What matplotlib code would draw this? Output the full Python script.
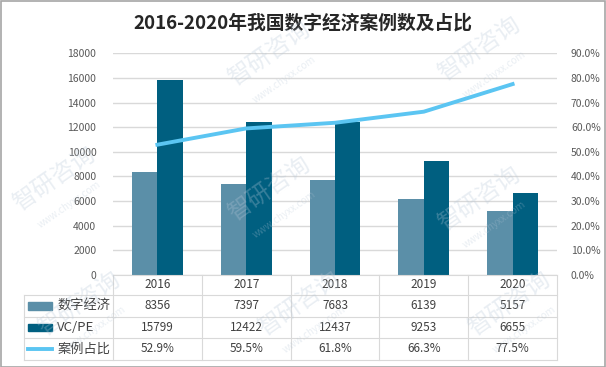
import matplotlib.pyplot as plt
import matplotlib.transforms as mtransforms
from matplotlib.patches import Rectangle
from matplotlib.lines import Line2D

plt.rcParams['font.family'] = ['Noto Sans CJK SC', 'DejaVu Sans']

years = ['2016', '2017', '2018', '2019', '2020']
digital = [8356, 7397, 7683, 6139, 5157]
vcpe = [15799, 12422, 12437, 9253, 6655]
ratio = [52.9, 59.5, 61.8, 66.3, 77.5]
ratio_labels = ['52.9%', '59.5%', '61.8%', '66.3%', '77.5%']
series_names = ['数字经济', 'VC/PE', '案例占比']

c_light = '#5B8FA8'
c_dark = '#005F80'
c_line = '#5BC5F2'
c_grid = '#D9D9D9'
c_text = '#595959'

W, H = 606, 367
fig = plt.figure(figsize=(W / 100, H / 100), dpi=100)
ax = fig.add_axes([113 / W, 1 - 275 / H, 444 / W, (275 - 53.3) / H])
ax2 = ax.twinx()

x = list(range(len(years)))
bw = 0.287
ax.bar([i - bw / 2 for i in x], digital, bw, color=c_light, zorder=2)
ax.bar([i + bw / 2 for i in x], vcpe, bw, color=c_dark, zorder=2)
ax2.plot(x, ratio, color=c_line, lw=2.8, zorder=3)

ax.set_xlim(-0.5, 4.5)
ax.set_ylim(0, 18000)
ax.set_yticks(range(0, 18001, 2000))
ax2.set_ylim(0, 90)
ax2.set_yticks(range(0, 91, 10))
ax2.set_yticklabels(['%.1f%%' % v for v in range(0, 91, 10)])
ax.set_xticks([])
ax.grid(axis='y', color=c_grid, lw=1, zorder=0)
ax.set_axisbelow(True)
for a in (ax, ax2):
    for s in a.spines.values():
        s.set_visible(False)
    a.tick_params(length=0, labelsize=7.5, labelcolor=c_text)
ax.tick_params(axis='y', pad=12)
ax2.tick_params(axis='y', pad=10)

# data table below the plot
tr = mtransforms.blended_transform_factory(ax.transData, fig.transFigure)
rows_px = [275, 295, 316.7, 338, 360]
fy = [1 - r / H for r in rows_px]
tbl_lw = 0.8
ax.add_line(Line2D([-0.5, 4.5], [fy[0], fy[0]], transform=tr, color=c_grid, lw=tbl_lw, clip_on=False))
for yy in fy[1:]:
    ax.add_line(Line2D([-1.5, 4.5], [yy, yy], transform=tr, color=c_grid, lw=tbl_lw, clip_on=False))
for xv in [i - 0.5 for i in range(6)]:
    ax.add_line(Line2D([xv, xv], [fy[0], fy[-1]], transform=tr, color=c_grid, lw=tbl_lw, clip_on=False))
ax.add_line(Line2D([-1.5, -1.5], [fy[1], fy[-1]], transform=tr, color=c_grid, lw=tbl_lw, clip_on=False))

def mid(k):
    return (fy[k] + fy[k + 1]) / 2

for i, yr in enumerate(years):
    ax.text(i, mid(0), yr, transform=tr, ha='center', va='center', fontsize=8.5, color='#404040')
    ax.text(i, mid(1), str(digital[i]), transform=tr, ha='center', va='center', fontsize=8.5, color='#404040')
    ax.text(i, mid(2), str(vcpe[i]), transform=tr, ha='center', va='center', fontsize=8.5, color='#404040')
    ax.text(i, mid(3), ratio_labels[i], transform=tr, ha='center', va='center', fontsize=8.5, color='#404040')

# legend keys inside row labels
kx0 = -1.5 + 4 / 88.8
kw = 24 / 88.8
kh = 7.5 / H
for k, col in [(1, c_light), (2, c_dark)]:
    ax.add_patch(Rectangle((kx0, mid(k) - kh / 2), kw, kh, transform=tr, color=col, clip_on=False))
ax.add_line(Line2D([kx0, kx0 + kw], [mid(3), mid(3)], transform=tr, color=c_line, lw=2.8, clip_on=False))
for k, name in enumerate(series_names):
    ax.text(-1.5 + 33 / 88.8, mid(k + 1), name, transform=tr, ha='left', va='center', fontsize=9.5, color='#404040')

fig.text(303 / W, 1 - 23 / H, '2016-2020年我国数字经济案例数及占比', ha='center', va='center',
         fontsize=13.5, fontweight='bold', color='#262626')

# faint watermark
wm = [(270, 55), (480, 50), (55, 180), (270, 190), (480, 200), (80, 305), (300, 305), (510, 305)]
for px, py in wm:
    fig.text(px / W, 1 - py / H, '智研咨询', rotation=35, ha='center', va='center', fontsize=17,
             color='#B8C8D8', alpha=0.3, zorder=10)
    fig.text((px + 14) / W, 1 - (py + 25) / H, 'www.chyxx.com', rotation=35, ha='center', va='center',
             fontsize=7, color='#B8C8D8', alpha=0.3, zorder=10)

fig.patches.append(Rectangle((0.5 / W, 0.5 / H), 1 - 1.5 / W, 1 - 1.5 / H, transform=fig.transFigure,
                             fill=False, edgecolor='#A6A6A6', lw=1.2))

fig.savefig('out.png', dpi=100)
